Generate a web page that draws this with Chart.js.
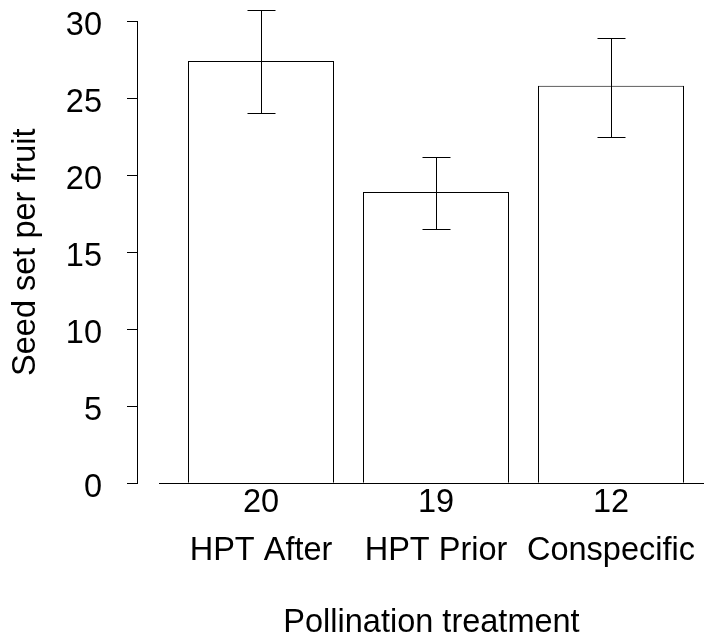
<!DOCTYPE html>
<html>
<head>
<meta charset="utf-8">
<title>Seed set per fruit</title>
<script src="https://cdn.jsdelivr.net/npm/chart.js@4"></script>
<style>
  html, body { margin: 0; padding: 0; background: #fff; }
  canvas { display: block; }
</style>
</head>
<body>
<canvas id="grafico" width="704" height="639"></canvas>
<script>
// dados
const categories = ['HPT After', 'HPT Prior', 'Conspecific'];
const sampleSizes = [20, 19, 12];
const means = [27.4, 18.9, 25.8];
const errLow = [24.0, 16.5, 22.5];
const errHigh = [30.7, 21.2, 28.9];
const yTicks = [0, 5, 10, 15, 20, 25, 30];

Chart.defaults.font.family = '"Liberation Sans", Arial, Helvetica, sans-serif';
Chart.defaults.color = '#000';

// sem padding automático dos rótulos (o layout fica fixo)
const noPad = s => { s.paddingTop = 0; s.paddingBottom = 0; s.paddingLeft = 0; s.paddingRight = 0; };

// barras de erro desenhadas depois das barras
const errorBars = {
  id: 'errorBars',
  afterDatasetsDraw(chart) {
    const { ctx, scales: { x, y } } = chart;
    const bars = chart.getDatasetMeta(0).data;
    ctx.save();
    ctx.strokeStyle = '#000';
    ctx.lineWidth = 1;
    categories.forEach((c, i) => {
      const px = Math.round(x.getPixelForValue(i)) + 0.5;
      const top = Math.round(y.getPixelForValue(errHigh[i])) + 0.5;
      const bot = Math.round(y.getPixelForValue(errLow[i])) + 0.5;
      const half = Math.round(bars[i].width * 0.0925);
      ctx.beginPath();
      ctx.moveTo(px, top); ctx.lineTo(px, bot);
      ctx.moveTo(px - half, top); ctx.lineTo(px + half, top);
      ctx.moveTo(px - half, bot); ctx.lineTo(px + half, bot);
      ctx.stroke();
    });
    ctx.restore();
  }
};

new Chart(document.getElementById('grafico'), {
  type: 'bar',
  data: {
    datasets: [{
      data: categories.map((c, i) => ({ x: i, y: means[i] })),
      backgroundColor: '#fff',
      borderColor: '#000',
      borderWidth: 1,
      barPercentage: 0.8343,
      categoryPercentage: 1
    }]
  },
  plugins: [errorBars],
  options: {
    responsive: false,
    animation: false,
    devicePixelRatio: 1,
    layout: { padding: { top: 21, left: 0, right: 0, bottom: 0 } },
    plugins: { legend: { display: false }, tooltip: { enabled: false } },
    scales: {
      x: {
        type: 'linear',
        offset: false,
        min: -0.58286,
        max: 2.53143,
        grid: { display: false, drawTicks: false },
        border: { display: true, color: '#000', width: 1 },
        afterBuildTicks: s => { s.ticks = categories.map((c, i) => ({ value: i })); },
        afterFit: s => { s.height = 155.7; noPad(s); },
        ticks: {
          padding: -4,
          maxRotation: 0,
          autoSkip: false,
          font: { size: 32.5, lineHeight: 1.465 },
          callback: v => [String(sampleSizes[v]), categories[v]]
        },
        title: {
          display: true,
          text: 'Pollination treatment',
          font: { size: 32.5, lineHeight: 1 },
          padding: 0
        }
      },
      y: {
        position: 'left',
        weight: 1,
        min: 0,
        max: 30,
        afterBuildTicks: s => { s.ticks = yTicks.map(v => ({ value: v })); },
        afterFit: s => { s.width = 137; noPad(s); },
        grid: { display: true, drawOnChartArea: false, drawTicks: true, tickLength: 10, color: '#000' },
        border: { display: true, color: '#000', width: 1 },
        ticks: { padding: 25, labelOffset: 5, font: { size: 32.5 } },
        title: {
          display: true,
          text: 'Seed set per fruit',
          font: { size: 32.5 },
          padding: { top: 7, bottom: 0 }
        }
      },
      // espaço vazio entre o eixo y e a área do gráfico (estilo R)
      gap: {
        type: 'linear',
        position: 'left',
        weight: 0,
        display: true,
        ticks: { display: false },
        grid: { display: false },
        border: { display: false },
        afterFit: s => { s.width = 22; noPad(s); }
      }
    }
  }
});
</script>
</body>
</html>
